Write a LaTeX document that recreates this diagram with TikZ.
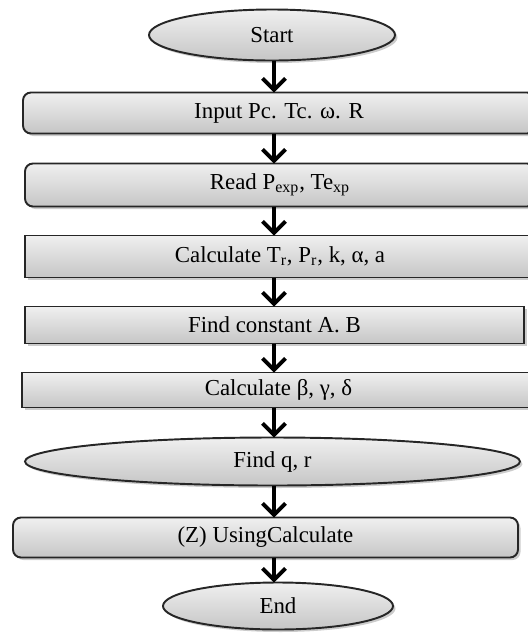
\documentclass[tikz,border=0pt]{standalone}
\usepackage{fontspec}
\setmainfont{Liberation Serif}
\usetikzlibrary{shapes.geometric, arrows.meta, positioning, shadows}
\tikzstyle{startstop} = [ellipse, 
minimum width=4.9cm, 
minimum height=1cm, 
inner sep=1pt, outer sep=0pt,
text centered, 
draw=black!85, line width=1.1pt,
top color=gray!12, bottom color=gray!45,
drop shadow={opacity=0.4, shadow xshift=0.05cm, shadow yshift=-0.05cm}]
\tikzstyle{roundbox} = [rectangle, rounded corners=0.16cm,
minimum width=10.2cm, 
minimum height=0.8cm, 
inner sep=1pt, outer sep=0pt,
text centered, 
draw=black!85, line width=1.1pt,
top color=gray!12, bottom color=gray!45,
drop shadow={opacity=0.4, shadow xshift=0.05cm, shadow yshift=-0.05cm}]
\tikzstyle{sqbox} = [roundbox, sharp corners]
\tikzstyle{arr} = [line width=2.2pt, -{Straight Barb[length=6.5pt, width=13pt, line width=2.2pt]}]

\begin{document}
\begin{tikzpicture}[node distance=0.6cm, font=\fontsize{13pt}{15pt}\selectfont]
		\useasboundingbox (0,0) rectangle (10.56,-12.66);
		\node (start) [startstop, minimum width=4.92cm, minimum height=1.02cm] at (5.44,-0.70) {Start};
		\node (in) [roundbox, minimum width=10.24cm, minimum height=0.82cm, below=0.64cm of start, xshift=0.14cm] {Input Pc. Tc. ω. R};
		\node (rd) [roundbox, minimum width=10.2cm, minimum height=0.86cm, below=0.60cm of in, xshift=0.02cm] {Read P\textsubscript{exp}, Te\textsubscript{xp}};
		\node (calc) [sqbox, minimum width=10.2cm, minimum height=0.84cm, below=0.58cm of rd] {Calculate T\textsubscript{r}, P\textsubscript{r}, k, α, a};
		\node (ab) [sqbox, minimum width=9.98cm, minimum height=0.74cm, below=0.58cm of calc, xshift=-0.11cm] {Find constant A. B};
		\node (bgd) [sqbox, minimum width=10.26cm, minimum height=0.70cm, below=0.58cm of ab, xshift=0.08cm] {Calculate β, γ, δ};
		\node (qr) [startstop, minimum width=9.9cm, minimum height=0.96cm, below=0.60cm of bgd, xshift=-0.12cm] {Find q, r};
		\node (z) [roundbox, minimum width=10.1cm, minimum height=0.80cm, below=0.64cm of qr, xshift=-0.14cm] {(Z) UsingCalculate};
		\node (end) [startstop, minimum width=4.6cm, minimum height=0.94cm, below=0.50cm of z, xshift=0.25cm] {End};
		
		\coordinate (axis) at (5.48,0);
		\draw [arr](start.south -| axis) -- (in.north -| axis);
		\draw [arr](in.south -| axis) -- (rd.north -| axis);
		\draw [arr](rd.south -| axis) -- (calc.north -| axis);
		\draw [arr](calc.south -| axis) -- (ab.north -| axis);
		\draw [arr](ab.south -| axis) -- (bgd.north -| axis);
		\draw [arr](bgd.south -| axis) -- (qr.north -| axis);
		\draw [arr](qr.south -| axis) -- (z.north -| axis);
		\draw [arr](z.south -| axis) -- (end.north -| axis);
	\end{tikzpicture}
\end{document}
